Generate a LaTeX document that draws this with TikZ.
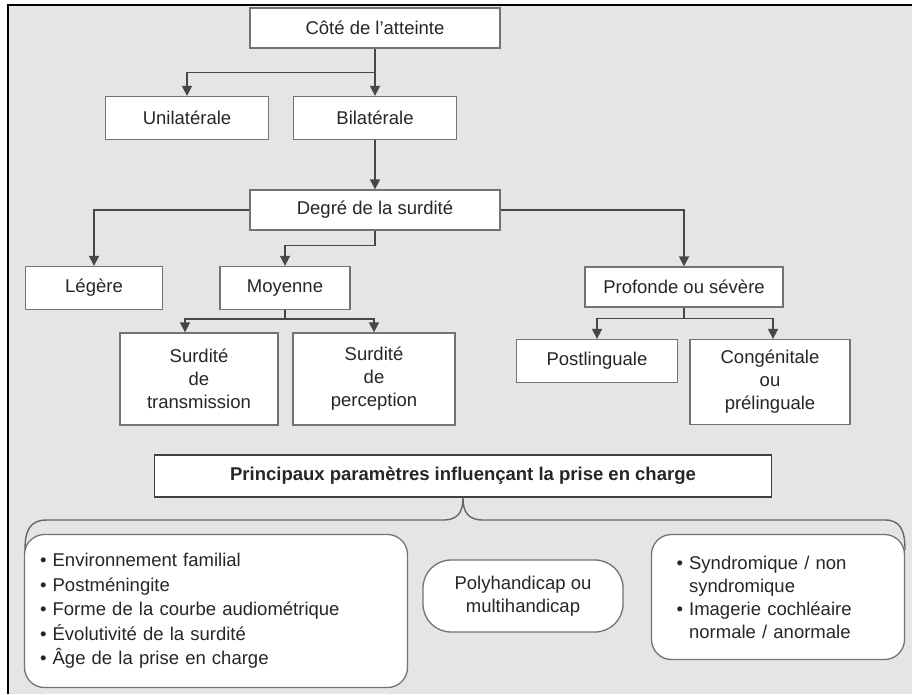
\documentclass[tikz,border=0pt]{standalone}
\usepackage{fontspec}
\setmainfont{Liberation Sans}
\usetikzlibrary{arrows.meta}

\begin{document}
\begin{tikzpicture}[
  x=1pt, y=-1pt,
  box/.style={
    draw=black!55, line width=1.3pt, fill=white, rectangle,
    text=black!85, align=center, inner sep=2pt,
    font=\fontsize{18.5}{23}\selectfont
  },
  rbox/.style={box, rounded corners=20pt},
  arr/.style={-{Triangle[width=10pt,length=10pt]}, line width=1.6pt, black!72},
  brace/.style={line width=1.4pt, black!60},
]

\useasboundingbox (0,0) rectangle (912,694);
\fill[black!10] (8,5) rectangle (912,694);
\draw[line width=2pt] (8,694) -- (8,5) -- (912,5);

\node[box, minimum width=250pt, minimum height=40pt] (cote)   at (375,28)  {Côté de l'atteinte};
\node[box, minimum width=163pt, minimum height=43pt] (uni)    at (187,118) {Unilatérale};
\node[box, minimum width=163pt, minimum height=43pt] (bi)     at (375,118) {Bilatérale};
\node[box, minimum width=250pt, minimum height=40pt] (degre)  at (375,210) {Degré de la surdité};
\node[box, minimum width=137pt, minimum height=43pt] (legere) at (94,288)  {Légère};
\node[box, minimum width=130pt, minimum height=43pt] (moy)    at (285,288) {Moyenne};
\node[box, minimum width=198pt, minimum height=40pt] (prof)   at (684,287) {Profonde ou sévère};
\node[box, minimum width=158pt, minimum height=92pt] (trans)  at (199,379) {Surdité\\de\\transmission};
\node[box, minimum width=162pt, minimum height=92pt] (perc)   at (374,379) {Surdité\\de\\perception};
\node[box, minimum width=161pt, minimum height=43pt] (postl)  at (597,361) {Postlinguale};
\node[box, minimum width=160pt, minimum height=85pt] (cong)   at (770,382) {Congénitale\\ou\\prélinguale};

\node[box, draw=black!75, minimum width=617pt, minimum height=42pt,
      font=\fontsize{18.5}{23}\selectfont\bfseries] (princ) at (463,476)
      {Principaux paramètres influençant la prise en charge};

\node[rbox, minimum width=383pt, minimum height=153pt, text width=352pt, align=left,
      font=\fontsize{18.5}{24.5}\selectfont] (facteurs) at (216,611)
      {• Environnement familial\\• Postméningite\\• Forme de la courbe audiométrique\\• Évolutivité de la surdité\\• Âge de la prise en charge};
\node[rbox, rounded corners=28pt, minimum width=200pt, minimum height=72pt] (poly) at (523,596)
      {Polyhandicap ou\\multihandicap};
\node[rbox, minimum width=253pt, minimum height=125pt, text width=203pt, align=left] (synd) at (778,597)
      {• Syndromique / non\\\phantom{• }syndromique\\• Imagerie cochléaire\\\phantom{• }normale / anormale};

\draw[arr] (cote) -- (bi);
\draw[arr] (cote.south) -- ++(0,24) -| (uni.north);
\draw[arr] (bi) -- (degre);
\draw[arr] (degre.west) -| (legere.north);
\draw[arr] (degre.south) -- ++(0,15) -| (moy.north);
\draw[arr] (degre.east) -| (prof.north);
\draw[arr] (moy.south) -- ++(0,9) -| ([xshift=-14pt]trans.north);
\draw[arr] (moy.south) -- ++(0,9) -| (perc.north);
\draw[arr] (prof.south) -- ++(0,11) -| (postl.north);
\draw[arr] (prof.south) -- ++(0,11) -| ([xshift=3pt]cong.north);

\draw[brace] (25,550) .. controls (25,530) and (30,520) .. (47,520) -- (443,520)
  .. controls (458,520) and (463,512) .. (princ.south)
  .. controls (463,512) and (468,520) .. (483,520) -- (885,520)
  .. controls (900,520) and (905,530) .. (905,550);

\end{tikzpicture}
\end{document}
